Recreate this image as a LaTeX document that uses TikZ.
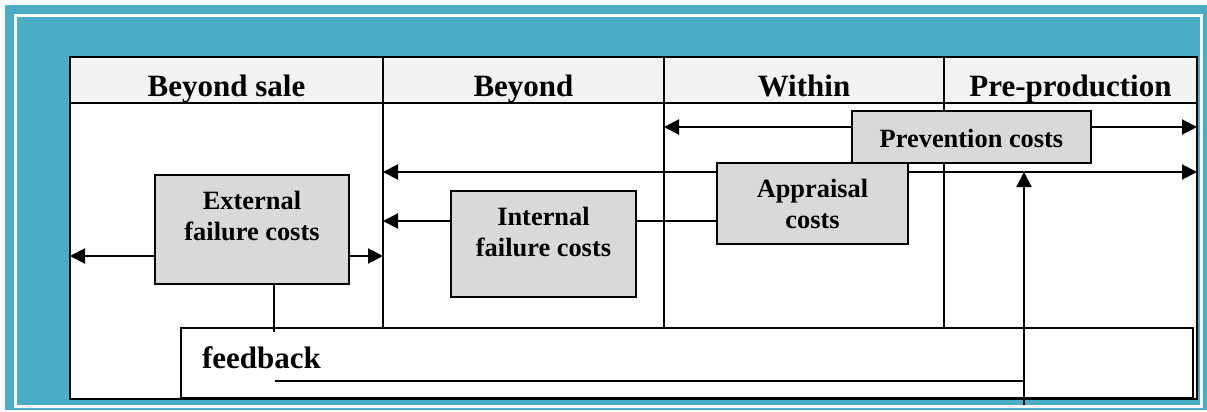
\documentclass[tikz,border=0pt]{standalone}
\usepackage{fontspec}
\setmainfont{Liberation Serif}
\usetikzlibrary{arrows.meta, calc}
\usepackage{xcolor}
\definecolor{frameteal}{HTML}{4BACC6}
\definecolor{headgray}{HTML}{F2F2F2}
\definecolor{boxgray}{HTML}{D9D9D9}

\newcommand{\costtext}[4][17pt]{\parbox[c][#3][t]{#2}{\centering\rule{0pt}{#1}#4}}

\begin{document}
\begin{tikzpicture}[
    x=0.5pt, y=-0.5pt,
    line/.style={line width=1pt, draw=black},
    costbox/.style={rectangle, draw=black, line width=1pt, fill=boxgray, inner sep=0pt, anchor=north west, font=\fontsize{13.2}{15.5}\selectfont\bfseries},
    fbbox/.style={rectangle, draw=black, line width=1pt, fill=white, inner sep=0pt, anchor=north west, font=\fontsize{15.5}{18}\selectfont\bfseries},
    head/.style={anchor=base, font=\fontsize{15.5}{18}\selectfont\bfseries},
    arrow/.style={-{Triangle[length=7.5pt, width=7.5pt]}, line width=1pt},
    twoway/.style={{Triangle[length=7.5pt, width=7.5pt]}-{Triangle[length=7.5pt, width=7.5pt]}, line width=1pt}
  ]
  \useasboundingbox (0,0) rectangle (1207,412);
  \fill[frameteal] (5,5) rectangle (1207,410);
  \draw[white, line width=1.5pt] (15,15) rectangle (1201.5,406.5);

  \fill[headgray] (70,57) rectangle (1197,103);
  \fill[white] (70,103) rectangle (1197,399);
  \draw[line] (70,57) rectangle (1197,399);
  \draw[line] (70,103) -- (1197,103);
  \foreach \cx in {383,664,944}
    \draw[line] (\cx,57) -- (\cx,327);

  \node[head] (hSale) at (226.5,97) {Beyond sale};
  \node[head] (hBeyond) at (523.5,97) {Beyond};
  \node[head] (hWithin) at (804,97) {Within};
  \node[head] (hPre) at (1070.5,97) {Pre-production};

  \coordinate (extL) at (70,256);
  \coordinate (extR) at (383,256);
  \coordinate (intL) at (383,221);
  \coordinate (appL) at (383,172);
  \coordinate (appR) at (1197,172);
  \coordinate (prevL) at (664,127);
  \coordinate (prevR) at (1197,127);
  \coordinate (extDrop) at (274,332);
  \coordinate (fbStart) at (275,381);
  \coordinate (fbTurn) at (1024,381);
  \coordinate (fbLow) at (1024,405);
  \coordinate (fbTip) at (1024,172);

  \draw[twoway] (prevL) -- (prevR);
  \draw[twoway] (appL) -- (appR);

  \node[costbox] (prev) at (851,110) {\costtext[18pt]{119.5pt}{26pt}{Prevention costs}};
  \node[costbox] (app) at (716,162) {\costtext{95.5pt}{40.5pt}{Appraisal\\costs}};
  \node[costbox] (int) at (450,190) {\costtext{92.5pt}{53pt}{Internal\\failure costs}};
  \node[costbox] (ext) at (154,174) {\costtext{97pt}{54.5pt}{External\\failure costs}};

  \draw[arrow] (ext.west |- extL) -- (extL);
  \draw[arrow] (ext.east |- extR) -- (extR);
  \draw[arrow] (int.west |- intL) -- (intL);
  \draw[line] (int.east |- intL) -- (app.west |- intL);

  \node[fbbox] (fb) at (180,327) {\parbox[c][35pt][t]{506pt}{\hspace*{10.5pt}\rule{0pt}{20pt}feedback}};

  \draw[line] (ext.south -| extDrop) -- (extDrop);
  \draw[line] (fbStart) -- (fbTurn);
  \draw[arrow] (fbLow) -- (fbTip);
\end{tikzpicture}
\end{document}
